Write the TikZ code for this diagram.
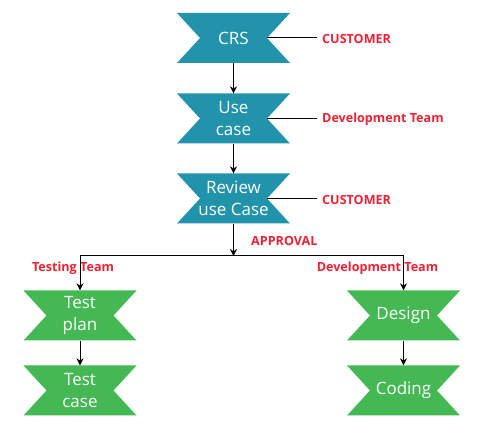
\documentclass[tikz,border=0pt]{standalone}
\usepackage{fontspec}
\setmainfont{Open Sans}
\usetikzlibrary{arrows.meta}
\definecolor{tealbox}{HTML}{2194AC}
\definecolor{greenbox}{HTML}{43B853}
\definecolor{lblred}{HTML}{EE2233}
\tikzset{
  bowbox/.style={rectangle, minimum width=113pt, minimum height=50pt, inner sep=0pt,
    text=white, align=center, font=\fontsize{17}{21.5}\selectfont,
    path picture={\fill[#1] (path picture bounding box.north west) -- (path picture bounding box.north east)
      -- ([xshift=-23pt]path picture bounding box.east) -- (path picture bounding box.south east)
      -- (path picture bounding box.south west) -- ([xshift=23pt]path picture bounding box.west) -- cycle;}},
  lbl/.style={text=lblred, font=\bfseries\fontsize{12.6}{14}\selectfont, inner sep=0pt},
  conn/.style={line width=1pt, black},
  arr/.style={conn, -{Stealth[length=7pt,width=7pt]}},
}
\begin{document}
\begin{tikzpicture}[x=1pt,y=-1pt]
\useasboundingbox (0,0) rectangle (480,435);
\node[bowbox=tealbox] (crs) at (233.5,38) {CRS};
\node[bowbox=tealbox] (use) at (233.5,118.5) {Use\\case};
\node[bowbox=tealbox] (rev) at (233.5,198.5) {Review\\use Case};
\node[bowbox=greenbox] (tp) at (80,315.5) {Test\\plan};
\node[bowbox=greenbox] (tc) at (80,390.5) {Test\\case};
\node[bowbox=greenbox] (des) at (403.5,315.5) {Design};
\node[bowbox=greenbox] (cod) at (403.5,390.5) {Coding};
\node[lbl, anchor=west] (l1) at (322,38.5) {CUSTOMER};
\node[lbl, anchor=west] (l2) at (322,119) {Development Team};
\node[lbl, anchor=west] (l3) at (322,199.5) {CUSTOMER};
\node[lbl, anchor=west] (ap) at (251,241) {APPROVAL};
\node[lbl] (tt) at (73,268.5) {Testing Team};
\node[lbl] (dt) at (377.5,268.5) {Development Team};
\coordinate (j) at (233.5,256);
\coordinate (jl) at (80,256);
\coordinate (jr) at (403.5,256);
\coordinate (e1) at (317,38);
\coordinate (e2) at (317,118.5);
\coordinate (e3) at (317,198.5);
\draw[arr] (crs.south) -- (use.north);
\draw[arr] (use.south) -- (rev.north);
\draw[arr] (rev.south) -- (j);
\draw[conn] (jl) -- (jr);
\draw[arr] (jl) -- (tp.north);
\draw[arr] (jr) -- (des.north);
\draw[arr] (tp.south) -- (tc.north);
\draw[arr] (des.south) -- (cod.north);
\draw[conn] ([xshift=-23pt]crs.east) -- (e1);
\draw[conn] ([xshift=-23pt]use.east) -- (e2);
\draw[conn] ([xshift=-23pt]rev.east) -- (e3);
\end{tikzpicture}
\end{document}
